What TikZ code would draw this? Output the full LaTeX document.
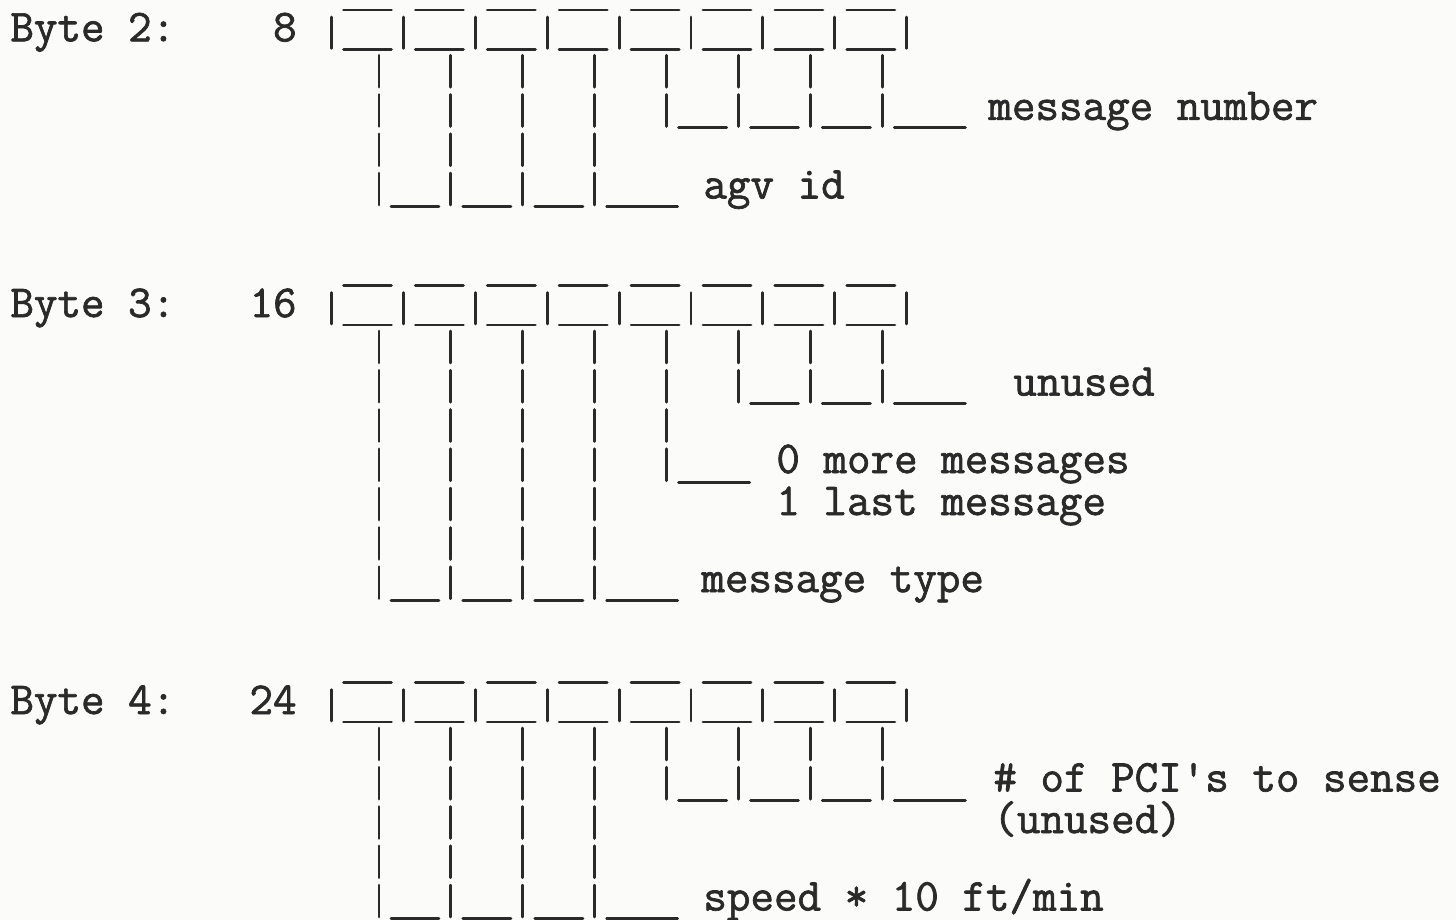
\documentclass[tikz,border=0pt]{standalone}
\usepackage{fontspec}
\newfontfamily\tw{Latin Modern Mono}[Ligatures=TeXOff,FakeBold=1.5]
\definecolor{inkc}{HTML}{2A2A2A}
\definecolor{paperc}{HTML}{FBFBF9}
\tikzset{
  seg/.style={line width=1.45pt, draw=inkc, line cap=round},
  lbl/.style={font=\tw\fontsize{22.86pt}{26pt}\selectfont, text=inkc, anchor=base west, inner sep=0pt, text height=13pt, text depth=4pt},
  num/.style={lbl, anchor=base east}
}
\newcommand\bytecells[1]{%
  \foreach \i in {0,...,7}{%
    \draw[seg] ({331.5+71.9*\i+12},#1) -- ({331.5+71.9*\i+60},#1);
    \draw[seg] ({331.5+71.9*\i+12},{#1+39.3}) -- ({331.5+71.9*\i+60},{#1+39.3});
  }
  \foreach \i in {0,...,8}{%
    \draw[seg] ({331.5+71.9*\i},{#1+7}) -- ({331.5+71.9*\i},{#1+38.3});
  }
}
\newcommand\stemcols[4]{% y0, from, to, kmax
  \foreach \j in {#2,...,#3}{%
    \foreach \k in {2,...,#4}{%
      \draw[seg] ({379+71.9*\j},{#1+39.3*(\k-1)+6}) -- ({379+71.9*\j},{#1+39.3*\k-1.5});
    }
  }
}
\newcommand\unders[4]{% y0, from, to, k
  \foreach \j in {#2,...,#3}{%
    \draw[seg] ({379+71.9*\j+12},{#1+39.3*#4}) -- ({379+71.9*\j+60},{#1+39.3*#4});
  }
}
\newcommand\leadline[3]{% y0, j, k
  \draw[seg] ({379+71.9*#2+12},{#1+39.3*#3}) -- ({379+71.9*#2+83},{#1+39.3*#3});
}
\begin{document}
\begin{tikzpicture}[x=0.5pt,y=-0.5pt]
\fill[paperc] (0,0) rectangle (1456,920);
\useasboundingbox (0,0) rectangle (1456,920);

% ---------- Byte 2 ----------
\def\ya{10}
\bytecells{\ya}
\stemcols{\ya}{0}{3}{5}
\stemcols{\ya}{4}{7}{3}
\unders{\ya}{4}{6}{3}
\leadline{\ya}{7}{3}
\unders{\ya}{0}{2}{5}
\leadline{\ya}{3}{5}
\node[lbl] (b2) at (10,41.3) {Byte 2:};
\node[num] (b2n) at (297,41.3) {8};
\node[lbl] (msgnum) at (988,119.9) {message number};
\node[lbl] (agvid) at (703,198.5) {agv id};

% ---------- Byte 3 ----------
\def\yb{285.7}
\bytecells{\yb}
\stemcols{\yb}{0}{3}{8}
\stemcols{\yb}{4}{4}{5}
\stemcols{\yb}{5}{7}{3}
\unders{\yb}{5}{6}{3}
\leadline{\yb}{7}{3}
\leadline{\yb}{4}{5}
\unders{\yb}{0}{2}{8}
\leadline{\yb}{3}{8}
\node[lbl] (b3) at (10,317) {Byte 3:};
\node[num] (b3n) at (297,317) {16};
\node[lbl] (unused3) at (1013,395.6) {unused};
\node[lbl] (more) at (776,473) {0 more messages};
\node[lbl] (last) at (776,515) {1 last message};
\node[lbl] (mtype) at (701,592.1) {message type};

% ---------- Byte 4 ----------
\def\yc{682.7}
\bytecells{\yc}
\stemcols{\yc}{0}{3}{6}
\stemcols{\yc}{4}{7}{3}
\unders{\yc}{4}{6}{3}
\leadline{\yc}{7}{3}
\unders{\yc}{0}{2}{6}
\leadline{\yc}{3}{6}
\node[lbl] (b4) at (10,714) {Byte 4:};
\node[num] (b4n) at (297,714) {24};
\node[lbl] (pci) at (993,791.5) {\# of PCI's to sense};
\node[lbl] (unused4) at (993,833) {(unused)};
\node[lbl] (speed) at (703,910.5) {speed * 10 ft/min};
\end{tikzpicture}
\end{document}
